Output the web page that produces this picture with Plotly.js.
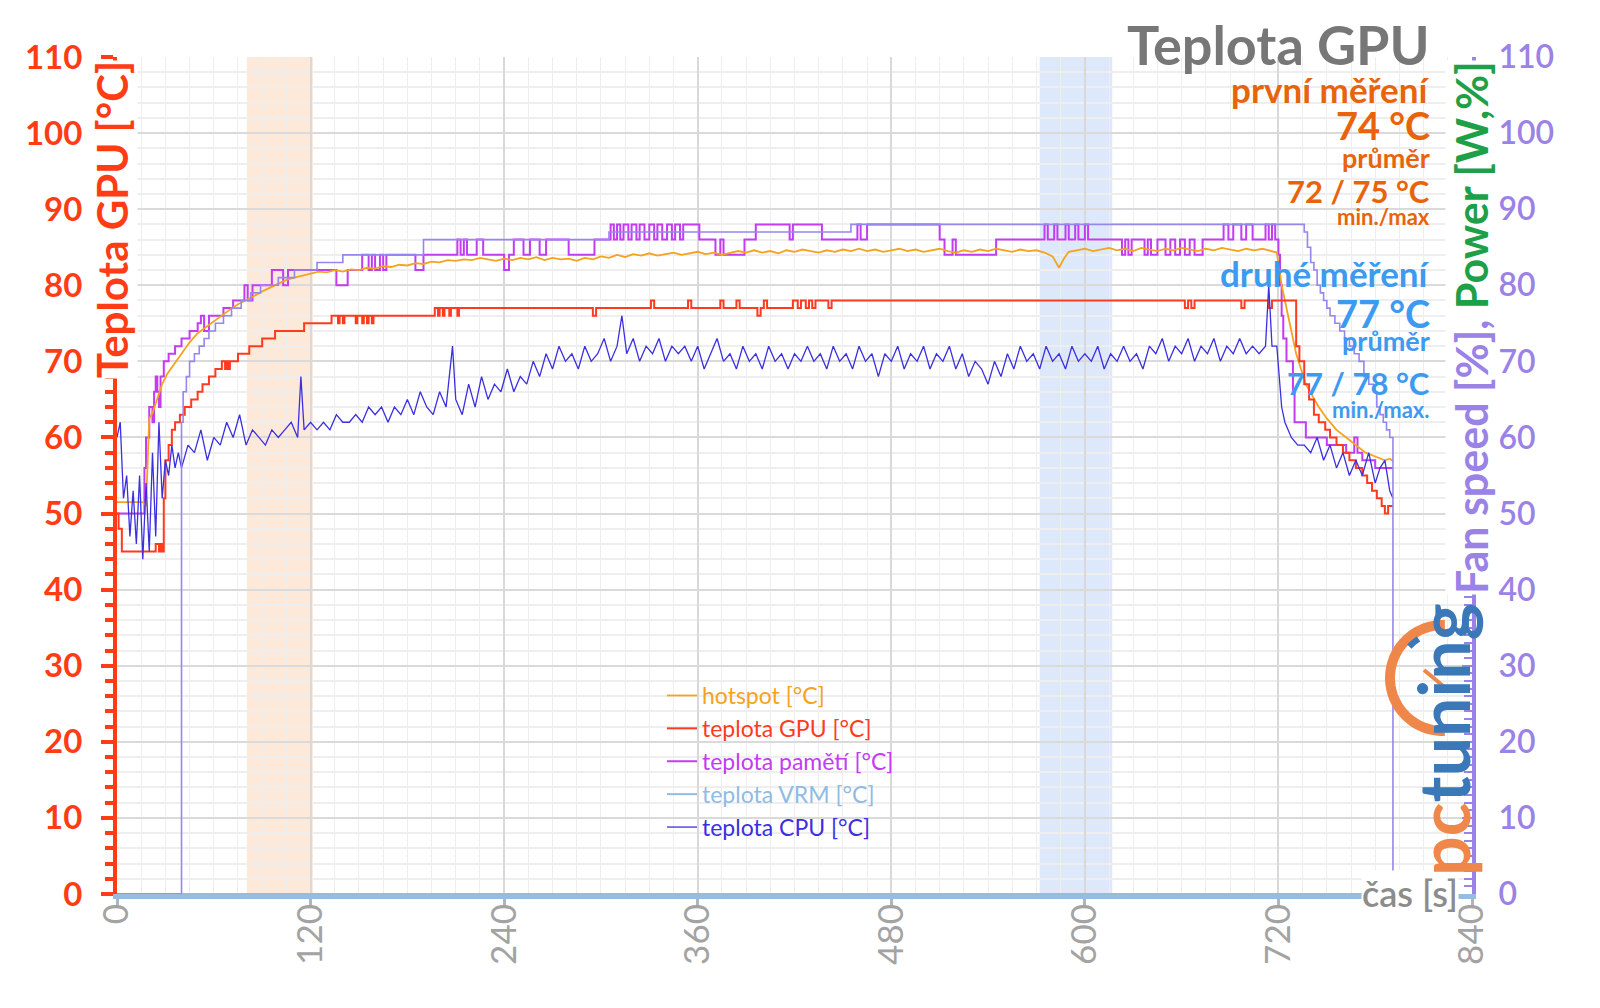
<!DOCTYPE html>
<html>
<head>
<meta charset="utf-8">
<script src="https://cdn.plot.ly/plotly-3.0.1.min.js"></script>
<style>
  html, body { margin: 0; padding: 0; background: #ffffff; }
  #chart { width: 1600px; height: 1008px; }
</style>
</head>
<body>
<div id="chart"></div>
<script>
// ---------------- DATA ----------------
const xTickVals = [0, 120, 240, 360, 480, 600, 720, 840];
const yTickVals = [0, 10, 20, 30, 40, 50, 60, 70, 80, 90, 100, 110];

// highlighted time windows [start, end] in seconds
const bandFirst = [80.5, 121.5];
const bandSecond = [572, 617];

// hotspot [°C]  [time s, value]
const hotspotPts = [
  [0,51.5],[16,51.5],[18,51.0],[20,62.5],[22,63.2],[25,65],[28,67],[31,68.3],[35,69.5],[40,71],
  [45,72.5],[50,73.7],[55,74.5],[60,75.3],[65,76],[70,76.8],[75,77.5],[80,78],[85,78.6],[90,79.2],
  [95,79.7],[100,80.2],[105,80.7],[110,81],[115,81.3],
  [120,81.6],[125,81.8],[130,81.7],[135,82.0],[140,81.8],[145,82.1],[150,82.0],[155,82.3],[160,82.2],
  [165,82.5],[170,82.4],[175,82.7],[180,82.6],[185,82.9],[190,82.8],[195,83.1],[200,83.0],[205,83.3],
  [210,83.2],[215,83.4],[220,83.3],[225,83.6],[230,83.4],[235,83.2],[240,83.5],[245,83.3],[250,83.6],
  [255,83.4],[260,83.7],[265,83.3],[270,83.6],[275,83.4],[280,83.5],[285,83.2],[290,83.6],[295,83.4],
  [300,83.8],[305,83.6],[310,84.0],[315,83.7],[320,84.1],[325,83.9],[330,84.2],[335,83.9],[340,84.1],
  [345,84.3],[350,84.0],[355,84.2],[360,84.4],[365,84.1],[370,84.3],[375,84.0],[380,84.2],[385,84.5],
  [390,84.3],[395,84.6],[400,84.3],[405,84.5],[410,84.2],[415,84.6],[420,84.4],[425,84.7],[430,84.5],
  [435,84.3],[440,84.6],[445,84.4],[450,84.7],[455,84.5],[460,84.8],[465,84.5],[470,84.7],[475,84.4],
  [480,84.6],[485,84.8],[490,84.5],[495,84.7],[500,84.4],[505,84.6],[510,84.8],[515,84.5],[520,84.3],
  [525,84.6],[530,84.4],[535,84.7],[540,84.5],[545,84.8],[550,84.6],[555,84.4],[560,84.7],[565,84.5],
  [570,84.6],[575,84.3],[580,83.8],[584,82.3],[587,83.5],[590,84.4],[595,84.6],[600,84.8],[605,84.5],
  [610,84.7],[615,84.9],[620,84.6],[625,84.8],[630,84.5],[635,84.9],[640,84.7],[645,84.5],[650,84.8],
  [655,84.6],[660,84.9],[665,84.7],[670,84.5],[675,84.8],[680,84.6],[685,84.9],[690,84.7],[695,84.5],
  [700,84.8],[705,84.6],[710,84.8],[715,84.5],[719,84.3],
  [722,80],[725,77],[728,74],[731,71],[734,69],[737,67],[741,65.5],[745,64],[750,62.5],[756,61],
  [762,60],[768,59],[774,58],[780,57.5],[786,57],[789,57.2],[791,56.9]
];

// teplota GPU [°C]  (stepped)
const gpuPts = [
  [0,50],[1,48],[3,45],[24,46],[26,45],[27,46],[28,45],[29,52],[30,57],[32,59],[34,61],[36,62],
  [39,63],[42,64],[46,65],[50,66],[53,67],[57,68],[61,69],[65,70],[67,69],[68,70],[69,69],[70,70],
  [75,71],[82,72],[90,73],[98,74],[116,75],[133,76],[137,75],[138,76],[140,75],[141,76],[148,75],
  [149,76],[152,75],[153,76],[155,75],[156,76],[158,75],[159,76],[197,77],[199,76],[200,77],[202,76],
  [203,77],[206,76],[207,77],[211,76],[212,77],[295,76],[297,77],[331,78],[333,77],[354,78],[356,77],
  [374,78],[376,77],[384,78],[386,77],[397,76],[399,77],[401,78],[403,77],[419,78],[422,77],[424,78],
  [427,77],[429,78],[431,77],[433,78],[441,77],[443,78],[662,77],[664,78],[666,77],[668,78],[697,77],
  [699,78],[714,77],[716,78],[729,78],[731,72],[733,70],[736,67],[739,65],[742,63],[745,62],[749,61],
  [752,60],[756,59],[760,58],[764,57],[768,56],[772,55],[775,54],[778,53],[781,52],[784,51],[786,50],
  [788,51],[791,51]
];

// teplota pamětí [°C]  (stepped)
const memPts = [
  [0,50],[17,56],[18,60],[20,64],[22,62],[23,66],[24,68],[25,66],[26,64],[27,68],[29,70],[32,71],
  [36,72],[40,73],[45,74],[50,75],[52,76],[54,74],[57,76],[66,77],[72,78],[79,80],[81,78],[84,80],
  [96,82],[103,80],[106,82],[136,80],[143,82],[152,84],[156,82],[158,84],[160,82],[163,84],[165,82],
  [167,84],[185,82],[190,84],[211,86],[213,84],[215,86],[217,84],[223,86],[227,84],[240,82],[243,84],
  [246,86],[252,84],[256,86],[262,84],[266,86],[280,84],[296,86],[306,88],[308,86],[310,88],[312,86],
  [314,88],[317,86],[319,88],[322,86],[324,88],[327,86],[330,88],[333,86],[335,88],[338,86],[341,88],
  [344,86],[346,88],[349,86],[351,88],[361,86],[371,84],[374,86],[376,84],[389,86],[396,88],[417,86],
  [419,88],[437,86],[459,88],[461,86],[465,88],[510,86],[513,84],[518,86],[520,84],[545,86],[575,88],
  [577,86],[581,88],[583,86],[588,88],[590,86],[594,88],[596,86],[600,88],[602,86],[623,84],[625,86],
  [627,84],[629,86],[637,84],[639,86],[641,84],[645,86],[650,84],[653,86],[656,84],[659,86],[662,84],
  [665,86],[668,84],[673,86],[686,88],[689,86],[692,88],[697,86],[700,88],[704,86],[712,88],[714,86],
  [716,88],[718,86],[720,84],[721,80],[722,76],[723,73],[725,70],[729,66],[730,62],[737,60],[750,59],
  [762,58],[767,60],[769,58],[772,57],[780,56],[791,56]
];

// teplota VRM [°C]  (no reading, stays at zero)
const vrmPts = [[0,0],[400,0],[791,0]];

// teplota CPU [°C]
const cpuPts = [
  [0,60],[2,62],[4,52],[6,55],[8,47],[10,53],[12,46],[14,55],[16,44],[18,54],[20,45],[22,58],[24,47],
  [26,62],[28,52],[30,57],[32,55],[34,59],[36,56],[38,58],[40,56],[44,59],[48,58],[52,61],[56,57],
  [60,60],[64,59],[68,62],[72,60],[76,63],[80,59],[84,61],[88,60],[92,59],[96,61],[100,60],[104,61],
  [108,62],[112,60],[114,68],[116,61],[120,62],[124,61],[128,62],[132,61],[136,63],[140,62],[144,62],
  [148,63],[152,62],[156,64],[160,63],[164,64],[168,62],[172,64],[176,63],[180,65],[184,63],[188,66],
  [192,64],[196,63],[200,66],[204,64],[208,72],[210,65],[214,63],[218,67],[222,64],[226,68],[230,65],
  [234,67],[238,66],[242,69],[246,66],[250,68],[254,67],[258,70],[262,68],[266,71],[270,69],[274,72],
  [278,70],[282,71],[286,69],[290,72],[294,70],[298,71],[302,73],[306,70],[310,72],[313,76],[316,71],
  [320,73],[324,70],[328,72],[332,71],[336,73],[340,70],[344,72],[348,71],[352,72],[356,70],[360,72],
  [364,69],[368,71],[372,73],[376,70],[380,71],[384,69],[388,72],[392,70],[396,71],[400,69],[404,72],
  [408,70],[412,71],[416,69],[420,71],[424,70],[428,72],[432,70],[436,71],[440,69],[444,72],[448,70],
  [452,71],[456,69],[460,72],[464,70],[468,71],[472,68],[476,71],[480,70],[484,72],[488,69],[492,71],
  [496,70],[500,72],[504,69],[508,71],[512,70],[516,72],[520,69],[524,71],[528,68],[532,70],[536,69],
  [540,67],[544,70],[548,68],[552,71],[556,69],[560,72],[564,70],[568,71],[572,69],[576,72],[580,70],
  [584,71],[588,69],[592,72],[596,70],[600,71],[604,70],[608,72],[612,69],[616,71],[620,70],[624,72],
  [628,70],[632,71],[636,69],[640,72],[644,71],[648,73],[652,70],[656,72],[660,71],[664,73],[668,70],
  [672,72],[676,71],[680,73],[684,70],[688,72],[692,71],[696,73],[700,71],[704,72],[708,71],[712,72],
  [714,80],[716,72],[719,72],[722,64],[724,62],[728,60],[732,59],[736,59],[740,58],[744,60],[748,57],
  [752,59],[756,56],[760,58],[764,55],[768,57],[772,55],[776,58],[780,54],[783,56],[786,57],[789,53],
  [791,52]
];

// Fan speed [%]  (right axis, stepped)
const fanPts = [
  [0,0],[40,62],[41,66],[43,68],[45,70],[48,71],[51,72],[54,73],[57,74],[61,75],[66,76],[71,77],
  [77,78],[83,79],[89,80],[100,81],[110,82],[124,83],[140,84],[190,86],[305,87],[455,88],[736,87],
  [738,85],[740,83],[742,82],[744,80],[746,79],[748,78],[750,77],[752,76],[755,75],[758,74],[761,73],
  [764,72],[767,71],[770,70],[773,68],[776,67],[779,66],[781,64],[783,63],[785,62],[787,61],[789,60],
  [791,0],[793,0]
];

// ---------------- PLOT ----------------
const L = 117, R = 1472, T = 57, B = 894;
const px = x => (x - L) / (R - L);
const py = y => (B - y) / (B - T);
const xs = p => p.map(d => d[0]);
const ys = p => p.map(d => d[1]);

const C = {
  hot: '#f5a21f', gpu: '#ff3b1f', mem: '#c23cf0', vrm: '#8fbbe4', cpu: '#3b2fe0',
  fan: '#9686ee', red: '#ff3c14', purple: '#9a82e6', green: '#1ea048',
  orange: '#e8640c', blue: '#3c9af0', gray: '#777777'
};
const FONT = 'Lato, "Open Sans", sans-serif';

function leg(txt, col) { return '<span style="color:' + col + '">' + txt + '</span>'; }

const traces = [
  { x: xs(fanPts), y: ys(fanPts), yaxis: 'y2', mode: 'lines', line: { color: C.fan, width: 1.6, shape: 'hv' }, showlegend: false, name: 'Fan speed [%]' },
  { x: xs(memPts), y: ys(memPts), mode: 'lines', line: { color: C.mem, width: 2, shape: 'hv' }, name: leg('teplota pamětí [°C]', C.mem), legendrank: 3 },
  { x: xs(hotspotPts), y: ys(hotspotPts), mode: 'lines', line: { color: C.hot, width: 1.8 }, name: leg('hotspot [°C]', C.hot), legendrank: 1 },
  { x: xs(gpuPts), y: ys(gpuPts), mode: 'lines', line: { color: C.gpu, width: 2, shape: 'hv' }, name: leg('teplota GPU [°C]', C.gpu), legendrank: 2 },
  { x: xs(vrmPts), y: ys(vrmPts), mode: 'lines', line: { color: C.vrm, width: 2 }, name: leg('teplota VRM [°C]', C.vrm), legendrank: 4 },
  { x: xs(cpuPts), y: ys(cpuPts), mode: 'lines', line: { color: C.cpu, width: 1.3 }, name: leg('teplota CPU [°C]', C.cpu), legendrank: 5 }
];

function ann(text, xpx, ypx, size, color, opts) {
  return Object.assign({
    text: text, x: px(xpx), y: py(ypx), xref: 'paper', yref: 'paper',
    xanchor: 'right', yanchor: 'middle', showarrow: false,
    font: { family: FONT, size: size, color: color, weight: 700 }
  }, opts || {});
}

const annotations = [
  ann('Teplota GPU', 1432, 44, 54, C.gray),
  ann('první měření', 1432, 89, 35, C.orange),
  ann('74 °C', 1432, 125, 38, C.orange),
  ann('průměr', 1432, 157, 27, C.orange),
  ann('72 / 75 °C', 1432, 191, 31, C.orange),
  ann('min./max', 1432, 217, 22, C.orange),
  ann('druhé měření', 1432, 273, 35, C.blue),
  ann('77 °C', 1432, 313, 38, C.blue),
  ann('průměr', 1432, 341, 27, C.blue),
  ann('77 / 78 °C', 1432, 383, 31, C.blue),
  ann('min./max.', 1432, 409, 22, C.blue),
  ann('Teplota GPU [°C]', 112, 220, 42, C.red, { xanchor: 'center', textangle: -90, bgcolor: '#ffffff', borderpad: 0 }),
  ann('<span style="color:' + C.purple + '">Fan speed [%], </span><span style="color:' + C.green + '">Power [W,%]</span>',
      1471, 328, 43, C.purple, { xanchor: 'center', textangle: -90, bgcolor: '#ffffff', borderpad: 0 }),
  ann('čas [s]', 1410, 893, 36, '#8c8c8c', { xanchor: 'center', bgcolor: '#ffffff', borderpad: 0, font: { family: FONT, size: 36, color: '#8c8c8c', weight: 600 } }),
  ann('<span style="color:#f0874a">pc</span><span style="color:#3a78b8">tuning</span>',
      1443, 740, 70, '#3a78b8', { xanchor: 'center', textangle: -90 })
];

// logo gauge arc (decoration)
function arcPath(cx, cy, r, a0, a1, n) {
  let d = '';
  for (let i = 0; i <= n; i++) {
    const a = (a0 + (a1 - a0) * i / n) * Math.PI / 180;
    const x = px(cx + r * Math.cos(a)), y = py(cy - r * Math.sin(a));
    d += (i === 0 ? 'M ' : ' L ') + x.toFixed(5) + ' ' + y.toFixed(5);
  }
  return d;
}

const shapes = [
  { type: 'rect', xref: 'x', yref: 'paper', x0: bandFirst[0], x1: bandFirst[1], y0: 0, y1: 1, fillcolor: '#fde9da', line: { width: 0 }, layer: 'below' },
  { type: 'rect', xref: 'x', yref: 'paper', x0: bandSecond[0], x1: bandSecond[1], y0: 0, y1: 1, fillcolor: '#dde9fb', line: { width: 0 }, layer: 'below' },
  { type: 'path', xref: 'paper', yref: 'paper', path: arcPath(1443, 678, 53, 88, 272, 40), line: { color: '#f0874a', width: 10 } },
  { type: 'path', xref: 'paper', yref: 'paper', path: arcPath(1443, 678, 46, 122, 137, 6), line: { color: '#3a78b8', width: 6 } },
  { type: 'path', xref: 'paper', yref: 'paper', path: 'M ' + px(1448) + ' ' + py(690) + ' L ' + px(1424) + ' ' + py(670), line: { color: '#f0874a', width: 4 } }
];

const layout = {
  width: 1600, height: 1008,
  margin: { l: L, r: 1600 - R, t: T, b: 1008 - B, pad: 0 },
  paper_bgcolor: '#ffffff', plot_bgcolor: '#ffffff',
  font: { family: FONT },
  showlegend: true,
  legend: {
    x: px(662), y: py(674), xanchor: 'left', yanchor: 'top',
    bgcolor: 'rgba(0,0,0,0)', font: { family: FONT, size: 23 },
    itemwidth: 30, tracegroupgap: 0, traceorder: 'normal'
  },
  xaxis: {
    range: [0, 840], tickvals: xTickVals, tickangle: -90,
    tickfont: { family: FONT, size: 35, color: '#a3a3a3', weight: 400 },
    showgrid: true, gridcolor: '#d9d9d9', gridwidth: 2,
    minor: { dtick: 15, showgrid: true, gridcolor: '#eeeeee', gridwidth: 1 },
    showline: true, linecolor: '#94bde0', linewidth: 5,
    ticks: 'outside', ticklen: 8, tickwidth: 3, tickcolor: '#b4b4b4',
    ticklabelstandoff: -17, zeroline: false, fixedrange: true
  },
  yaxis: {
    range: [0, 110], tickvals: yTickVals,
    tickfont: { family: FONT, size: 33, color: C.red, weight: 700 },
    showgrid: true, gridcolor: '#dadada', gridwidth: 2,
    minor: { dtick: 2, showgrid: true, gridcolor: '#eeeeee', ticks: 'outside', ticklen: 8, tickwidth: 4, tickcolor: C.red },
    showline: true, linecolor: C.red, linewidth: 4,
    ticks: 'outside', ticklen: 12, tickwidth: 4, tickcolor: C.red,
    ticklabelstandoff: 12, zeroline: false, fixedrange: true
  },
  yaxis2: {
    overlaying: 'y', side: 'right', range: [0, 110], tickvals: yTickVals,
    tickfont: { family: FONT, size: 32, color: C.purple, weight: 600 },
    showgrid: false,
    minor: { dtick: 1, ticks: 'inside', ticklen: 8, tickwidth: 2, tickcolor: C.purple, showgrid: false },
    showline: true, linecolor: C.purple, linewidth: 4,
    ticks: 'inside', ticklen: 10, tickwidth: 2, tickcolor: C.purple,
    ticklabelstandoff: 16, zeroline: false, fixedrange: true
  },
  annotations: annotations,
  shapes: shapes
};

Plotly.newPlot('chart', traces, layout, { displayModeBar: false, staticPlot: true });
</script>
</body>
</html>
